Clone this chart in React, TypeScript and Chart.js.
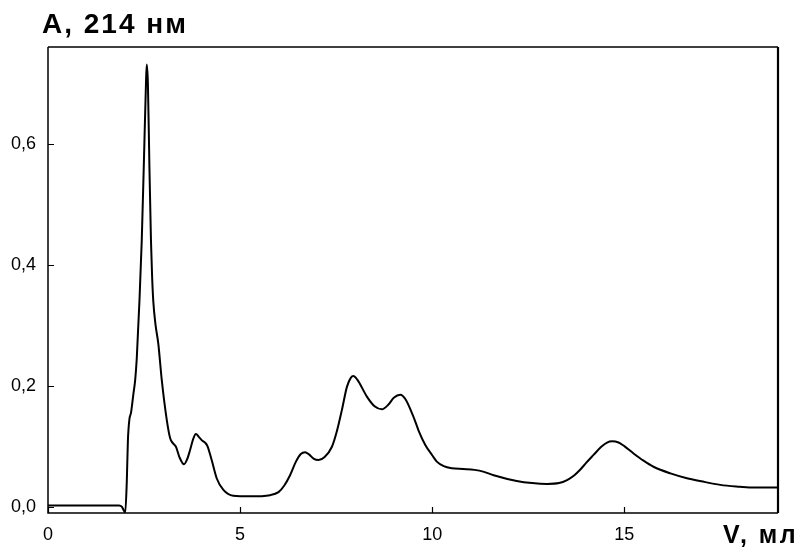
import React, { useEffect, useRef } from "react";
import { Chart, registerables } from "chart.js";

Chart.register(...registerables);

const VOLUME_ML = [
  0, 0.5, 1.0, 1.5, 1.85, 1.92, 1.97, 2.01, 2.05, 2.08, 2.12, 2.16, 2.22, 2.27, 2.31, 2.38, 2.44, 2.5,
  2.55, 2.57, 2.6, 2.64, 2.68, 2.71, 2.74, 2.8, 2.87, 2.96, 3.09, 3.18, 3.25, 3.33, 3.42, 3.54, 3.62,
  3.7, 3.78, 3.85, 3.93, 4.0, 4.1, 4.15, 4.26, 4.39, 4.56, 4.82, 5.26, 5.78, 6.0, 6.15, 6.3, 6.45,
  6.58, 6.69, 6.8, 6.92, 7.04, 7.2, 7.39, 7.52, 7.65, 7.78, 7.88, 7.95, 8.05, 8.3, 8.5, 8.69, 8.85,
  9.0, 9.17, 9.3, 9.51, 9.65, 9.82, 10.0, 10.12, 10.3, 10.51, 10.8, 11.1, 11.35, 11.6, 12.2, 12.6,
  12.99, 13.3, 13.51, 13.7, 13.85, 14.0, 14.2, 14.4, 14.55, 14.68, 14.85, 15.0, 15.24, 15.5, 15.76,
  16.2, 16.63, 17.0, 17.5, 18.0, 18.37, 19.0,
];

const ABSORBANCE = [
  0.002, 0.002, 0.002, 0.002, 0.002, 0.0, -0.006, -0.01, 0.04, 0.11, 0.145, 0.155, 0.185, 0.21, 0.245,
  0.34, 0.44, 0.58, 0.7, 0.731, 0.7, 0.56, 0.44, 0.38, 0.34, 0.3, 0.27, 0.21, 0.144, 0.113, 0.105,
  0.099, 0.082, 0.07, 0.078, 0.094, 0.112, 0.12, 0.115, 0.11, 0.105, 0.1, 0.077, 0.047, 0.028, 0.018,
  0.017, 0.019, 0.024, 0.035, 0.052, 0.074, 0.087, 0.09, 0.086, 0.079, 0.077, 0.082, 0.099, 0.125,
  0.16, 0.198, 0.213, 0.216, 0.21, 0.182, 0.166, 0.161, 0.168, 0.18, 0.185, 0.178, 0.149, 0.125,
  0.102, 0.085, 0.0745, 0.067, 0.0635, 0.0622, 0.0608, 0.0575, 0.052, 0.0425, 0.039, 0.0376, 0.039,
  0.044, 0.052, 0.061, 0.072, 0.0856, 0.099, 0.106, 0.108, 0.106, 0.1, 0.088, 0.076, 0.066, 0.055,
  0.047, 0.042, 0.036, 0.033, 0.0315, 0.0315,
];

const X_TICKS = [0, 5, 10, 15];
const Y_TICKS = [0, 0.2, 0.4, 0.6];
const Y_TITLE = "A, 214 нм";
const X_TITLE = "V, мл";

const FONT = "'Liberation Sans', Arial, sans-serif";

const framePlugin = {
  id: "frame",
  afterDraw(chart: any) {
    const { ctx, chartArea } = chart;
    const { left, right, top, bottom } = chartArea;
    const xs = chart.scales.x;
    const ys = chart.scales.y;
    ctx.save();
    ctx.strokeStyle = "#000";
    ctx.lineWidth = 1.5;
    ctx.beginPath();
    ctx.moveTo(left, top);
    ctx.lineTo(right, top);
    ctx.moveTo(left, top);
    ctx.lineTo(left, bottom);
    ctx.lineTo(right, bottom);
    ctx.stroke();
    ctx.lineWidth = 2.2;
    ctx.beginPath();
    ctx.moveTo(right, top);
    ctx.lineTo(right, bottom);
    ctx.stroke();
    ctx.lineWidth = 1.2;
    ctx.beginPath();
    X_TICKS.forEach((v) => {
      const px = Math.round(xs.getPixelForValue(v)) + 0.5;
      ctx.moveTo(px, bottom);
      ctx.lineTo(px, bottom - 6);
    });
    Y_TICKS.forEach((v) => {
      const py = Math.round(ys.getPixelForValue(v)) + 0.5;
      ctx.moveTo(left, py);
      ctx.lineTo(left + 6, py);
    });
    ctx.stroke();
    ctx.fillStyle = "#000";
    ctx.textBaseline = "alphabetic";
    ctx.textAlign = "left";
    (ctx as any).letterSpacing = "2px";
    ctx.font = `bold 28px ${FONT}`;
    ctx.fillText(Y_TITLE, 42, 33);
    (ctx as any).letterSpacing = "2.5px";
    ctx.font = `bold 25px ${FONT}`;
    ctx.fillText(X_TITLE, 723, 543);
    (ctx as any).letterSpacing = "0px";
    ctx.restore();
  },
};

export default function App() {
  const canvasRef = useRef<HTMLCanvasElement | null>(null);

  useEffect(() => {
    const canvas = canvasRef.current;
    if (!canvas) return;
    const points = VOLUME_ML.map((x, i) => ({ x, y: ABSORBANCE[i] }));
    const chart = new Chart(canvas, {
      type: "scatter",
      data: {
        datasets: [
          {
            data: points,
            showLine: true,
            borderColor: "#000",
            borderWidth: 2,
            pointRadius: 0,
            cubicInterpolationMode: "monotone",
            fill: false,
          } as any,
        ],
      },
      options: {
        animation: false,
        responsive: false,
        devicePixelRatio: 1,
        layout: { padding: { top: 47, right: 27, left: 0, bottom: 0 } },
        plugins: {
          legend: { display: false },
          tooltip: { enabled: false },
          title: { display: false },
        },
        scales: {
          x: {
            type: "linear",
            min: 0,
            max: 19,
            grid: { display: false, drawTicks: false, tickLength: 0 },
            border: { display: false },
            afterBuildTicks: (axis: any) => {
              axis.ticks = X_TICKS.map((v) => ({ value: v }));
            },
            afterFit: (axis: any) => {
              axis.height = 36;
            },
            ticks: {
              color: "#000",
              padding: 11,
              maxRotation: 0,
              autoSkip: false,
              font: { family: FONT, size: 18 },
              callback: (v: any) => String(v),
            },
          },
          y: {
            type: "linear",
            min: -0.0105,
            max: 0.76,
            grid: { display: false, drawTicks: false, tickLength: 0 },
            border: { display: false },
            afterBuildTicks: (axis: any) => {
              axis.ticks = Y_TICKS.map((v) => ({ value: v }));
            },
            afterFit: (axis: any) => {
              axis.width = 48;
            },
            ticks: {
              color: "#000",
              padding: 12,
              autoSkip: false,
              font: { family: FONT, size: 18 },
              callback: (v: any) => Number(v).toFixed(1).replace(".", ","),
            },
          },
        },
      },
      plugins: [framePlugin],
    });
    return () => chart.destroy();
  }, []);

  return (
    <div style={{ position: "fixed", left: 0, top: 0, width: 805, height: 549, background: "#fff" }}>
      <canvas ref={canvasRef} width={805} height={549} style={{ width: 805, height: 549, display: "block" }} />
    </div>
  );
}
